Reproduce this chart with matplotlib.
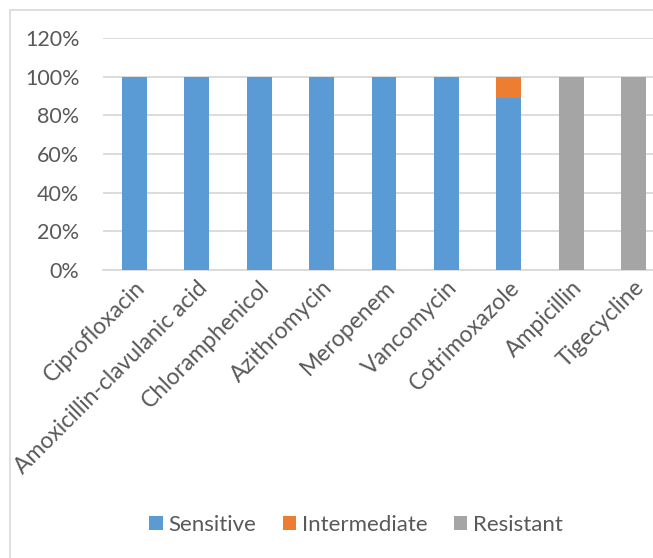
import numpy as np
import matplotlib.pyplot as plt
from matplotlib.patches import Rectangle
from matplotlib.ticker import PercentFormatter

# datos
antibioticos = ['Ciprofloxacin', 'Amoxicillin-clavulanic acid', 'Chloramphenicol',
                'Azithromycin', 'Meropenem', 'Vancomycin', 'Cotrimoxazole',
                'Ampicillin', 'Tigecycline']
sensible = [1.0, 1.0, 1.0, 1.0, 1.0, 1.0, 0.889, 0.0, 0.0]
intermedio = [0.0, 0.0, 0.0, 0.0, 0.0, 0.0, 0.111, 0.0, 0.0]
resistente = [0.0, 0.0, 0.0, 0.0, 0.0, 0.0, 0.0, 1.0, 1.0]

plt.rcParams['font.family'] = ['Lato', 'DejaVu Sans']
gris_texto = '#595959'

fig = plt.figure(figsize=(6.53, 5.58), dpi=100)
ax = fig.add_axes([103/653, 1 - 270/558, 562/653, (270 - 38)/558])

x = np.arange(len(antibioticos))
base2 = np.array(sensible) + np.array(intermedio)
ax.bar(x, sensible, width=0.4, color='#5b9bd5', label='Sensitive', zorder=3)
ax.bar(x, intermedio, width=0.4, bottom=sensible, color='#ed7d31', label='Intermediate', zorder=3)
ax.bar(x, resistente, width=0.4, bottom=base2, color='#a5a5a5', label='Resistant', zorder=3)

ax.set_xlim(-0.5, len(antibioticos) - 0.5)
ax.set_ylim(0, 1.2)
ax.set_yticks(np.arange(0, 1.21, 0.2))
ax.yaxis.set_major_formatter(PercentFormatter(1.0, decimals=0))
ax.grid(axis='y', color='#d9d9d9', linewidth=1.3, zorder=0)
for s in ['top', 'right', 'left']:
    ax.spines[s].set_visible(False)
ax.spines['bottom'].set_color('#d9d9d9')
ax.spines['bottom'].set_linewidth(1.3)
ax.tick_params(axis='y', length=0, labelsize=15.5, colors=gris_texto, pad=17)
ax.tick_params(axis='x', length=0, labelsize=16.5, colors=gris_texto, pad=5)
ax.set_xticks(x)
ax.set_xticklabels(antibioticos, rotation=45, ha='right', rotation_mode='anchor')
for lbl in ax.get_xticklabels():
    lbl.set_color(gris_texto)

ax.legend(loc='center', bbox_to_anchor=(356/653, 1 - 525/558), bbox_transform=fig.transFigure,
          ncol=3, frameon=False, fontsize=16, handlelength=0.6, handleheight=0.6,
          columnspacing=1.2, handletextpad=0.25, labelcolor=gris_texto)

# marco del gráfico
fig.patches.append(Rectangle((10/653, -0.1), 1.2, 1 - 10/558 + 0.1, transform=fig.transFigure,
                             fill=False, edgecolor='#d9d9d9', linewidth=1.2))

plt.savefig('out.png', dpi=100)
